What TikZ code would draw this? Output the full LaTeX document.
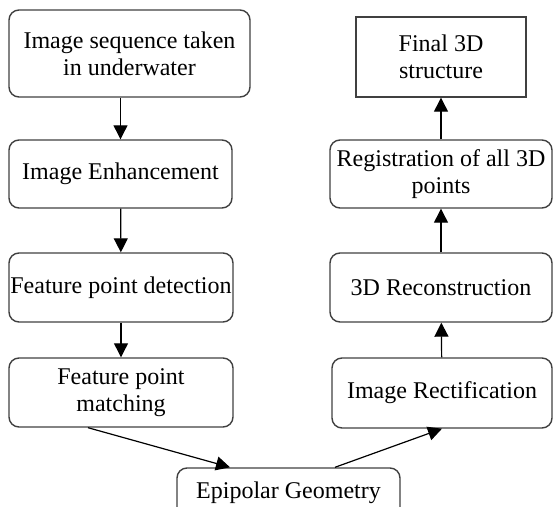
\documentclass[tikz,border=0pt]{standalone}
\usepackage{fontspec}
\setmainfont{Liberation Serif}
\usetikzlibrary{arrows.meta,calc}
\begin{document}
\begin{tikzpicture}[x=0.5pt,y=-0.5pt,
  box/.style={draw=black!75, line width=0.7pt, rounded corners=5pt, align=center, inner sep=0pt,
    font=\fontsize{12}{13.5}\selectfont},
  arr/.style={-{Triangle[width=7pt,length=7pt]}, line width=0.6pt}]
  \clip (0,0) rectangle (553,507);

  % Left column
  \node[box, minimum width=120.5pt, minimum height=43.5pt] (seq) at (129.5,53.5) {Image sequence taken\\in underwater};
  \node[box, minimum width=111.5pt, minimum height=34pt] (enh) at (120.5,174) {Image Enhancement};
  \node[box, minimum width=112pt, minimum height=34.5pt] (det) at (121,287.5) {Feature point detection};
  \node[box, minimum width=112pt, minimum height=34.5pt] (match) at (121,392.5) {Feature point\\matching};

  % Bottom
  \node[box, minimum width=111.5pt, minimum height=25pt] (epi) at (288.5,493) {Epipolar Geometry};

  % Right column
  \node[box, minimum width=110pt, minimum height=35pt] (rect) at (442,393) {Image Rectification};
  \node[box, minimum width=111pt, minimum height=34.5pt] (recon) at (441,287.5) {3D Reconstruction};
  \node[box, minimum width=111pt, minimum height=34pt] (reg) at (441,174) {Registration of all 3D\\points};
  \node[box, rounded corners=0pt, minimum width=85pt, minimum height=40pt] (final) at (441,57) {Final 3D\\structure};

  % Down
  \draw[arr] (seq.south -| enh.north) -- (enh.north);
  \draw[arr] (enh) -- (det);
  \draw[arr] (det) -- (match);

  % Across
  \draw[arr] ($(match.south)+(-33,0)$) -- ($(epi.north)+(-58.5,0)$);
  \draw[arr] ($(epi.north)+(46.5,0)$) -- (rect.south);

  % Up
  \draw[arr] (rect) -- (recon);
  \draw[arr] (recon) -- (reg);
  \draw[arr] (reg) -- (final);
\end{tikzpicture}
\end{document}
